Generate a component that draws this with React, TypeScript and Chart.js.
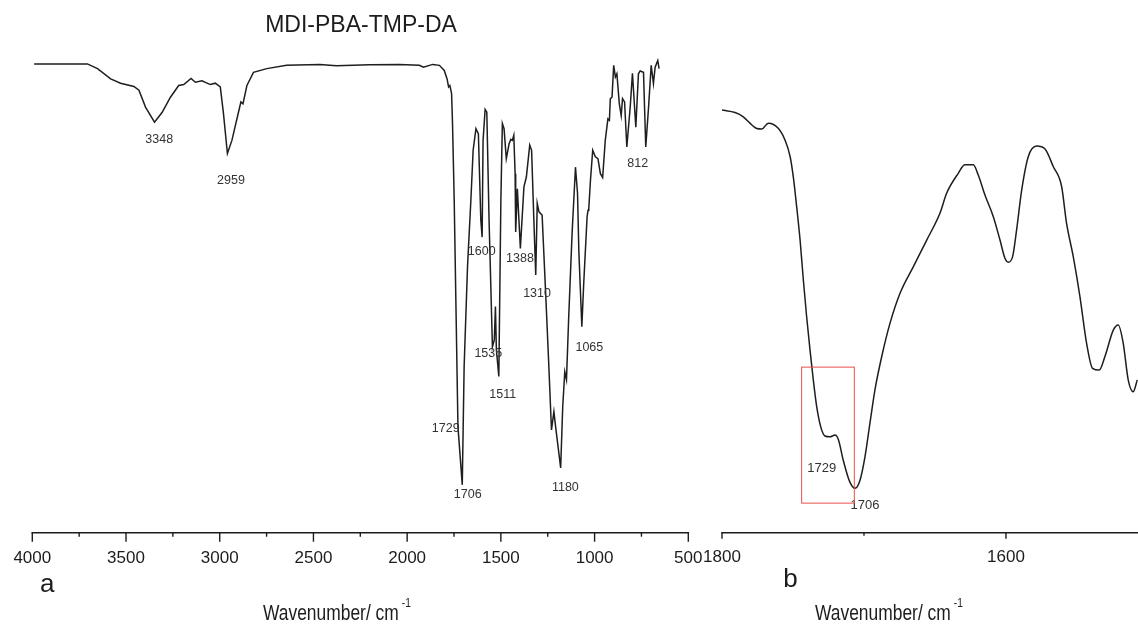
import React, { useEffect, useRef } from "react";
import { Chart, registerables } from "chart.js";

Chart.register(...registerables);

// ---------- Panel a: full spectrum (wavenumber cm-1, transmittance a.u.) ----------
const wavenumberA = [
  3990, 3706, 3652, 3582, 3529, 3458, 3431, 3396, 3348, 3307, 3263, 3219, 3192, 3153, 3130, 3095,
  3050, 3024, 2997, 2980, 2959, 2935, 2900, 2887, 2876, 2855, 2820, 2749, 2643, 2466, 2377, 2200,
  2041, 1935, 1913, 1864, 1828, 1802, 1787, 1779, 1772, 1763, 1758, 1749, 1729, 1706, 1696, 1678,
  1660, 1648, 1633, 1620, 1607, 1600, 1595, 1584, 1575, 1563, 1545, 1535, 1529, 1524, 1511, 1500,
  1492, 1483, 1471, 1456, 1447, 1439, 1431, 1424, 1421, 1412, 1396, 1377, 1364, 1346, 1336, 1324,
  1314, 1306, 1297, 1288, 1280, 1261, 1244, 1230, 1217, 1208, 1181, 1170, 1159, 1150, 1138, 1120,
  1111, 1102, 1091, 1084, 1068, 1058, 1040, 1035, 1031, 1022, 1010, 996, 982, 969, 957, 943,
  929, 921, 916, 907, 898, 889, 881, 868, 858, 851, 840, 828, 810, 798, 780, 766,
  757, 739, 727, 712, 698, 686, 677, 663, 656,
];
const transmittanceA = [
  99.9, 99.9, 98.9, 96.7, 95.8, 95.1, 94.3, 90.7, 87.5, 89.6, 92.8, 95.3, 95.5, 96.8, 96.0, 96.3,
  95.5, 95.8, 95.0, 89.3, 80.8, 83.6, 89.6, 91.8, 91.4, 95.3, 98.1, 98.9, 99.6, 99.8, 99.5, 99.7,
  99.8, 99.6, 99.2, 99.8, 99.6, 98.5, 96.7, 95.0, 95.3, 93.6, 87.2, 70.9, 22.6, 10.2, 35.4, 56.7,
  70.9, 81.5, 86.1, 85.0, 66.6, 63.0, 83.6, 90.2, 89.6, 66.6, 39.6, 41.1, 48.2, 39.0, 33.3, 70.9,
  87.2, 86.1, 79.7, 82.9, 83.8, 83.6, 84.7, 76.5, 64.1, 73.3, 60.6, 73.7, 75.8, 82.6, 81.5, 66.6,
  54.9, 70.2, 68.4, 68.0, 67.7, 51.0, 35.4, 21.9, 25.8, 22.6, 13.8, 26.9, 34.3, 32.6, 46.0, 63.8,
  70.9, 77.9, 72.3, 60.0, 43.9, 53.1, 67.3, 68.7, 69.1, 75.1, 81.5, 80.1, 79.7, 76.5, 75.7, 83.6,
  88.2, 87.9, 92.5, 92.8, 99.6, 97.1, 97.8, 91.4, 88.9, 92.5, 91.8, 82.2, 90.7, 97.9, 86.4, 97.8,
  98.4, 98.1, 82.2, 90.7, 99.6, 95.7, 99.2, 100.6, 98.9,
];

// ---------- Panel b: carbonyl region detail ----------
const wavenumberB = [
  1800, 1790.8, 1785, 1780.3, 1776, 1772, 1767.4, 1760.4, 1755.6, 1752, 1749.8, 1747.4, 1745, 1742.7,
  1740.4, 1738, 1735.7, 1733.3, 1730.5, 1727.5, 1724, 1720.4, 1718, 1714.6, 1710, 1706.3, 1702.8,
  1699.3, 1695.8, 1692.3, 1687.5, 1681.7, 1674.6, 1665.3, 1655.8, 1646.5, 1641.8, 1633.6, 1628.9,
  1623, 1619.5, 1614.8, 1608.9, 1604.2, 1600.7, 1598.4, 1595.3, 1592.5, 1588.9, 1584.3, 1578.4,
  1572.5, 1566.7, 1560.8, 1557.3, 1552.6, 1547.9, 1543.2, 1539, 1534.3, 1530.3, 1524.4, 1520.9,
  1517.4, 1513.9, 1510.4, 1507.5,
];
const transmittanceB = [
  99.0, 98.4, 97.4, 95.9, 94.7, 94.5, 95.9, 94.7, 91.9, 88.0, 83.3, 76.2, 68.4, 59.0,
  50.4, 42.5, 35.5, 29.2, 24.5, 22.3, 22.1, 22.5, 21.4, 16.6, 11.5, 10.0, 11.9,
  17.4, 25.3, 33.1, 41.0, 48.8, 55.9, 62.1, 68.4, 74.7, 79.4, 84.1, 86.1,
  86.1, 83.7, 79.0, 73.9, 68.4, 64.1, 63.2, 64.5, 70.8, 80.2, 88.0, 90.5,
  89.8, 85.7, 81.0, 72.3, 64.5, 55.1, 44.1, 38.2, 37.8, 41.0, 47.2, 48.4,
  44.1, 35.5, 32.7, 35.5,
];

// ---------- Axis ticks ----------
const majorTicksA = [4000, 3500, 3000, 2500, 2000, 1500, 1000, 500];
const minorTicksA = [3750, 3250, 2750, 2250, 1750, 1250, 750];
const majorTicksB = [1800, 1600];
const minorTicksB = [1700];

// ---------- Texts ----------
const chartTitle = "MDI-PBA-TMP-DA";
const axisTitleText = "Wavenumber/ cm";
const axisTitleSup = "-1";
const panelLabelA = "a";
const panelLabelB = "b";

// peak annotations (text, wavenumber, transmittance of label centre)
const peakTextsA = ["3348", "2959", "1600", "1388", "1310", "1535", "1511", "1065", "1729", "1706", "1180", "812"];
const peakWnA = [3323, 2940, 1602, 1398, 1307, 1567, 1490, 1028, 1794, 1677, 1156, 770];
const peakTA = [83.7, 75.0, 60.0, 58.5, 50.9, 38.1, 29.4, 39.4, 22.2, 8.2, 9.7, 78.6];

const peakTextsB = ["1729", "1706"];
const peakWnB = [1729.8, 1699.3];
const peakTB = [14.7, 6.0];

// highlighted region in panel b (wavenumber range, transmittance range)
const boxWnB = [1743.9, 1706.8];
const boxTB = [38.5, 6.5];

const FONT = '"Liberation Sans", Arial, Helvetica, sans-serif';
const INK = "#1c1c1c";

function drawSquashed(ctx: CanvasRenderingContext2D, text: string, x: number, y: number, size: number, sx: number) {
  ctx.save();
  ctx.translate(x, y);
  ctx.scale(sx, 1);
  ctx.font = `${size}px ${FONT}`;
  ctx.textAlign = "left";
  ctx.textBaseline = "alphabetic";
  ctx.fillText(text, 0, 0);
  const w = ctx.measureText(text).width * sx;
  ctx.restore();
  return w;
}

type DecorCfg = {
  major: number[];
  minor: number[];
  majorLen: number;
  minorLen: number;
  axisFrom: number | null;
  axisTo: number | null;
  tickLabelBaseline: number;
  panelLabel: string;
  panelLabelX: number;
  panelLabelBaseline: number;
  axisTitleX: number;
  title?: string;
  titleX?: number;
  peakTexts: string[];
  peakWn: number[];
  peakT: number[];
  peakFont: number;
  box?: { wn: number[]; t: number[] };
};

function makeDecor(cfg: DecorCfg) {
  return {
    id: "decor",
    afterDraw(chart: any) {
      const { ctx, chartArea, scales } = chart;
      const xs = scales.x;
      const ys = scales.y;
      const base = chartArea.bottom;
      ctx.save();
      ctx.strokeStyle = INK;
      ctx.fillStyle = INK;
      ctx.lineWidth = 1.6;
      // axis line
      const ax0 = cfg.axisFrom != null ? xs.getPixelForValue(cfg.axisFrom) : chartArea.left;
      const ax1 = cfg.axisTo != null ? xs.getPixelForValue(cfg.axisTo) : chartArea.right;
      ctx.beginPath();
      ctx.moveTo(ax0 - 0.8, base);
      ctx.lineTo(ax1 + 0.8, base);
      ctx.stroke();
      // ticks
      ctx.lineWidth = 1.4;
      cfg.major.forEach((v) => {
        const px = xs.getPixelForValue(v);
        ctx.beginPath();
        ctx.moveTo(px, base);
        ctx.lineTo(px, base + cfg.majorLen);
        ctx.stroke();
      });
      cfg.minor.forEach((v) => {
        const px = xs.getPixelForValue(v);
        ctx.beginPath();
        ctx.moveTo(px, base);
        ctx.lineTo(px, base + cfg.minorLen);
        ctx.stroke();
      });
      // tick labels
      ctx.font = `17px ${FONT}`;
      ctx.textAlign = "center";
      ctx.textBaseline = "alphabetic";
      cfg.major.forEach((v) => {
        ctx.fillText(String(v), xs.getPixelForValue(v), cfg.tickLabelBaseline);
      });
      // panel label
      ctx.font = `26px ${FONT}`;
      ctx.textAlign = "left";
      ctx.fillText(cfg.panelLabel, cfg.panelLabelX, cfg.panelLabelBaseline);
      // axis title with superscript
      const w = drawSquashed(ctx, axisTitleText, cfg.axisTitleX, 620, 21.5, 0.81);
      drawSquashed(ctx, axisTitleSup, cfg.axisTitleX + w + 3, 607, 12, 0.85);
      // chart title
      if (cfg.title) {
        ctx.font = `23px ${FONT}`;
        ctx.textAlign = "center";
        ctx.fillText(cfg.title, cfg.titleX as number, 32);
      }
      // peak labels
      ctx.fillStyle = "#333";
      ctx.font = `${cfg.peakFont}px ${FONT}`;
      ctx.textAlign = "center";
      ctx.textBaseline = "middle";
      cfg.peakTexts.forEach((t, i) => {
        ctx.fillText(t, xs.getPixelForValue(cfg.peakWn[i]), ys.getPixelForValue(cfg.peakT[i]));
      });
      // highlight box
      if (cfg.box) {
        const x0 = xs.getPixelForValue(cfg.box.wn[0]);
        const x1 = xs.getPixelForValue(cfg.box.wn[1]);
        const y0 = ys.getPixelForValue(cfg.box.t[0]);
        const y1 = ys.getPixelForValue(cfg.box.t[1]);
        ctx.strokeStyle = "#e8504a";
        ctx.lineWidth = 1;
        ctx.strokeRect(Math.min(x0, x1), Math.min(y0, y1), Math.abs(x1 - x0), Math.abs(y1 - y0));
      }
      ctx.restore();
    },
  };
}

function buildChart(
  canvas: HTMLCanvasElement,
  wn: number[],
  t: number[],
  xMin: number,
  xMax: number,
  yMin: number,
  yMax: number,
  padding: { left: number; right: number; top: number; bottom: number },
  tension: number,
  decor: any
) {
  return new Chart(canvas, {
    type: "line",
    data: {
      datasets: [
        {
          data: wn.map((w, i) => ({ x: w, y: t[i] })),
          borderColor: "#1e1e1e",
          borderWidth: 1.5,
          pointRadius: 0,
          fill: false,
          tension,
          cubicInterpolationMode: tension > 0 ? "monotone" : "default",
        },
      ],
    },
    options: {
      animation: false,
      responsive: false,
      maintainAspectRatio: false,
      devicePixelRatio: 1,
      events: [],
      layout: { padding },
      plugins: { legend: { display: false }, tooltip: { enabled: false }, title: { display: false } },
      scales: {
        x: { type: "linear", reverse: true, min: xMin, max: xMax, display: false },
        y: { type: "linear", min: yMin, max: yMax, display: false },
      },
    } as any,
    plugins: [decor],
  });
}

export default function App() {
  const refA = useRef<HTMLCanvasElement>(null);
  const refB = useRef<HTMLCanvasElement>(null);

  useEffect(() => {
    const chartA = buildChart(
      refA.current as HTMLCanvasElement,
      wavenumberA,
      transmittanceA,
      500,
      4000,
      0,
      105,
      { left: 32.3, right: 720 - 688.3, top: 40, bottom: 638 - 532.7 },
      0,
      makeDecor({
        major: majorTicksA,
        minor: minorTicksA,
        majorLen: 9,
        minorLen: 4,
        axisFrom: 4000,
        axisTo: 500,
        tickLabelBaseline: 562.7,
        panelLabel: panelLabelA,
        panelLabelX: 40,
        panelLabelBaseline: 591.7,
        axisTitleX: 263,
        title: chartTitle,
        titleX: 361,
        peakTexts: peakTextsA,
        peakWn: peakWnA,
        peakT: peakTA,
        peakFont: 12.5,
      })
    );
    const chartB = buildChart(
      refB.current as HTMLCanvasElement,
      wavenumberB,
      transmittanceB,
      1507,
      1800,
      -0.46,
      115.47,
      { left: 22, right: 0, top: 40, bottom: 638 - 532.7 },
      0.4,
      makeDecor({
        major: majorTicksB,
        minor: minorTicksB,
        majorLen: 6,
        minorLen: 3,
        axisFrom: 1800,
        axisTo: null,
        tickLabelBaseline: 562,
        panelLabel: panelLabelB,
        panelLabelX: 83.3,
        panelLabelBaseline: 586.7,
        axisTitleX: 115,
        peakTexts: peakTextsB,
        peakWn: peakWnB,
        peakT: peakTB,
        peakFont: 13,
        box: { wn: boxWnB, t: boxTB },
      })
    );
    return () => {
      chartA.destroy();
      chartB.destroy();
    };
  }, []);

  return (
    <div style={{ position: "absolute", left: 0, top: 0, width: 1138, height: 638, background: "#fff", overflow: "hidden" }}>
      <canvas ref={refA} width={720} height={638} style={{ position: "absolute", left: 0, top: 0, width: 720, height: 638 }} />
      <canvas ref={refB} width={438} height={638} style={{ position: "absolute", left: 700, top: 0, width: 438, height: 638 }} />
    </div>
  );
}
